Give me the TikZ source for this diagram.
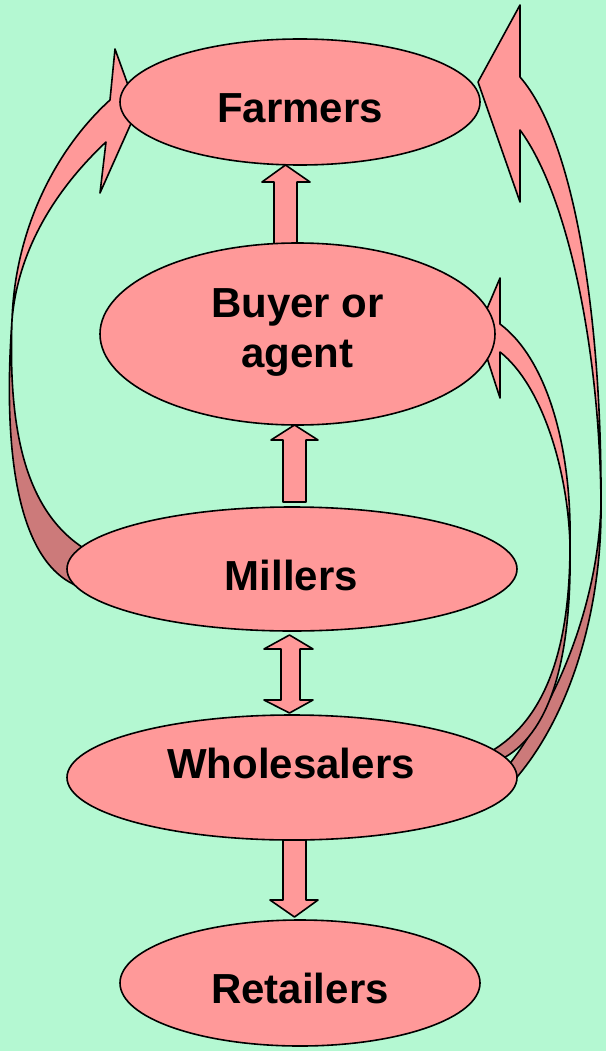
\documentclass[tikz,border=0pt]{standalone}
\usepackage{fontspec}
\setmainfont{Liberation Sans}
\usetikzlibrary{shapes.geometric}
\definecolor{bgmint}{RGB}{180,248,210}
\definecolor{boxpink}{RGB}{255,153,153}
\definecolor{backpink}{RGB}{204,122,122}
\tikzset{
  outline/.style={draw=black, line width=1.6pt, line join=round},
  stage/.style={ellipse, outline, fill=boxpink, inner sep=0pt},
  stagetext/.style={font=\fontsize{42}{50}\selectfont\bfseries, align=center, inner sep=0pt},
  blockarrow/.style={outline, fill=boxpink},
  ribbonfront/.style={outline, fill=boxpink},
  ribbonback/.style={outline, fill=backpink},
}
\begin{document}
\begin{tikzpicture}[x=1pt,y=-1pt]
\useasboundingbox (0,0) rectangle (606,1051);
\fill[bgmint] (0,0) rectangle (606,1051);

% Curved ribbon: Millers back to Farmers (left side)
\coordinate (lx) at (12,320);
\draw[ribbonback] (lx) .. controls (8,430) and (25,515) .. (90,552)
  -- (75,585) .. controls (20,560) and (2,460) .. (lx) -- cycle;
\draw[ribbonfront] (110,100) .. controls (55,150) and (15,230) .. (lx)
  .. controls (18,250) and (55,190) .. (106,142)
  -- (100,193) -- (137,110) -- (115,49) -- cycle;

% Curved ribbon: Wholesalers back to Farmers (right side, outer)
\coordinate (rx) at (601,505);
\draw[ribbonback] (rx) .. controls (598,600) and (560,700) .. (505,770)
  -- (510,785) .. controls (570,720) and (602,610) .. (rx) -- cycle;
\draw[ribbonfront] (520,77) .. controls (575,140) and (602,320) .. (rx)
  .. controls (600,350) and (568,195) .. (520,130)
  -- (520,202) -- (478,82) -- (520,5) -- cycle;

% Curved ribbon: Wholesalers back to Buyer or agent (right side, inner)
\coordinate (sx) at (570,545);
\draw[ribbonback] (sx) .. controls (570,650) and (545,720) .. (490,752)
  -- (500,760) .. controls (550,735) and (572,660) .. (sx) -- cycle;
\draw[ribbonfront] (500,324) .. controls (548,360) and (572,450) .. (sx)
  .. controls (568,470) and (542,385) .. (500,352)
  -- (500,398) -- (478,330) -- (500,278) -- cycle;

% Block arrows between the stages
\draw[blockarrow] (274,245) -- (297,245) -- (297,182) -- (310,182) -- (285.5,165)
  -- (262,182) -- (274,182) -- cycle;
\draw[blockarrow] (283,502) -- (306,502) -- (306,440) -- (318,440) -- (294.5,425)
  -- (271,440) -- (283,440) -- cycle;
\draw[blockarrow] (289.5,635) -- (313,649) -- (300,649) -- (300,700) -- (313,700)
  -- (289.5,713) -- (264,700) -- (281,700) -- (281,649) -- (264,649) -- cycle;
\draw[blockarrow] (283,840) -- (306,840) -- (306,900) -- (318,900) -- (294.5,917)
  -- (270,900) -- (283,900) -- cycle;

% Stages of the chain
\node[stage, minimum width=360pt, minimum height=126pt] (farmers) at (300,102) {};
\node[stage, minimum width=395pt, minimum height=182pt] (buyer) at (297.5,334) {};
\node[stage, minimum width=450pt, minimum height=124pt] (millers) at (292,569) {};
\node[stage, minimum width=450pt, minimum height=125pt] (wholesalers) at (292,777.5) {};
\node[stage, minimum width=360pt, minimum height=126pt] (retailers) at (300,983) {};

\node[stagetext] (farmers-t) at (300,108) {Farmers};
\node[stagetext] (buyer-t) at (297.5,332) {Buyer or\\agent};
\node[stagetext] (millers-t) at (291.5,575) {Millers};
\node[stagetext] (wholesalers-t) at (291,763) {Wholesalers};
\node[stagetext] (retailers-t) at (300,988) {Retailers};
\end{tikzpicture}
\end{document}
